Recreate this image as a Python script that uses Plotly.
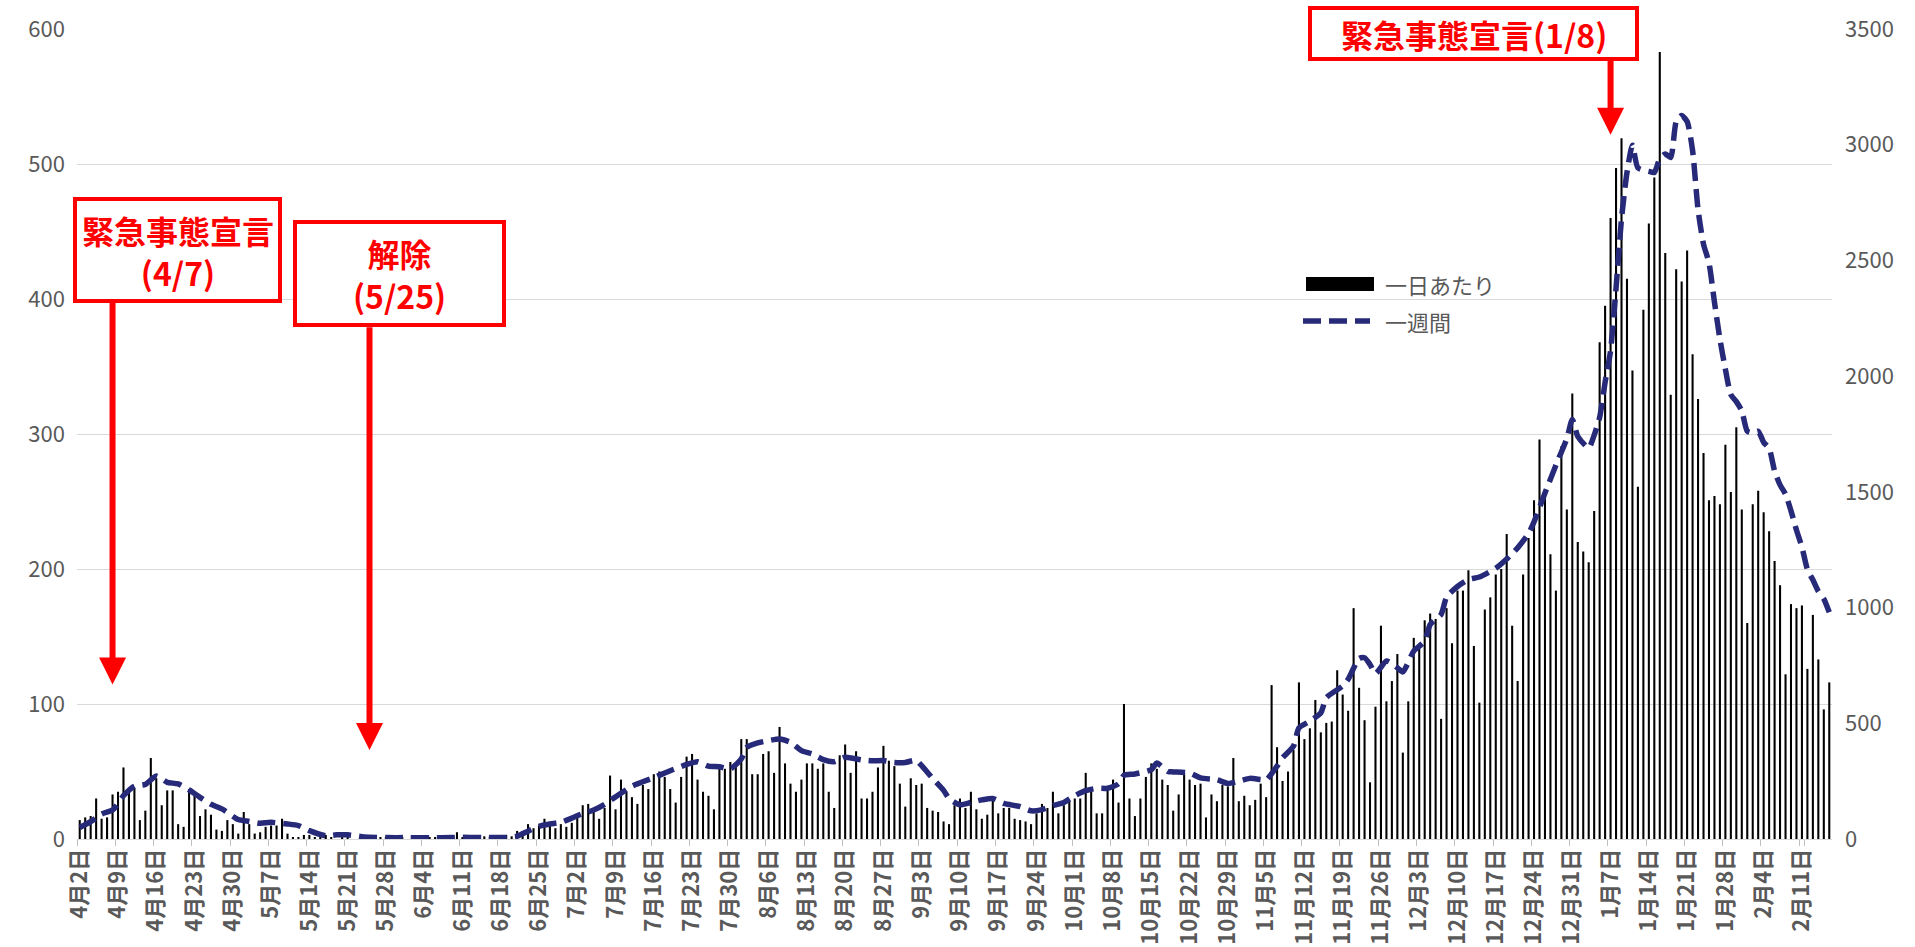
import pandas as pd
import plotly.graph_objects as go

# ---------------- data ----------------
start_date = "2020-04-02"

daily_cases = [
    14, 16, 17, 30, 15, 16, 33, 35, 53, 37,
    38, 14, 21, 60, 45, 25, 36, 36, 11, 9,
    37, 32, 17, 22, 18, 7, 6, 14, 11, 4,
    20, 11, 4, 5, 9, 10, 10, 15, 4, 1,
    1, 3, 3, 1, 3, 3, 1, 0, 2, 1,
    0, 0, 1, 0, 0, 1, 1, 0, 0, 1,
    0, 2, 1, 0, 1, 1, 0, 2, 0, 5,
    1, 2, 0, 1, 2, 1, 2, 1, 3, 2,
    6, 3, 11, 8, 10, 15, 12, 8, 11, 9,
    12, 18, 25, 26, 20, 15, 23, 47, 22, 44,
    35, 31, 26, 40, 37, 48, 50, 46, 37, 27,
    46, 61, 63, 44, 35, 32, 22, 52, 52, 57,
    57, 74, 74, 48, 48, 63, 65, 49, 83, 56,
    41, 35, 44, 56, 56, 52, 56, 35, 23, 62,
    70, 49, 65, 30, 30, 35, 53, 69, 58, 54,
    41, 24, 45, 40, 41, 23, 21, 20, 13, 11,
    25, 30, 23, 35, 22, 15, 18, 30, 19, 23,
    23, 15, 14, 13, 11, 19, 26, 23, 35, 19,
    25, 28, 30, 30, 49, 35, 19, 19, 37, 44,
    27, 100, 30, 17, 30, 46, 56, 52, 44, 40,
    21, 33, 49, 44, 40, 41, 16, 33, 28, 40,
    39, 60, 28, 32, 25, 29, 41, 31, 114, 68,
    43, 50, 66, 116, 74, 82, 103, 79, 86, 87,
    125, 107, 95, 171, 112, 88, 42, 98, 158, 102,
    117, 137, 64, 102, 149, 142, 162, 167, 163, 89,
    171, 145, 184, 184, 199, 143, 101, 170, 179, 196,
    200, 226, 158, 117, 196, 223, 251, 296, 257, 211,
    184, 291, 244, 330, 220, 213, 205, 243, 368, 395,
    460, 497, 519, 415, 347, 261, 392, 456, 490, 583,
    434, 329, 422, 413, 436, 359, 326, 286, 251, 254,
    248, 292, 257, 305, 244, 160, 248, 258, 242, 228,
    206, 188, 122, 174, 171, 173, 126, 166, 133, 96,
    116,
]

# weekly line: day offset from start_date, value
weekly_day = [
    0, 2, 4, 6, 8, 10, 12, 14, 16, 18, 20, 22, 24, 26, 29, 31, 33, 35, 38, 40,
    42, 45, 47, 49, 52, 56, 60, 64, 68, 70, 74, 78, 80, 82, 84, 86, 88, 90, 92, 94,
    96, 98, 101, 105, 108, 111, 113, 115, 117, 119, 121, 122, 124, 126, 128, 130,
    132, 134, 136, 138, 140, 143, 145, 147, 149, 151, 153, 154, 156, 158, 159, 161,
    163, 165, 167, 169, 172, 174, 176, 178, 180, 182, 184, 186, 188, 190, 191, 193,
    196, 197, 199, 200, 203, 205, 208, 210, 212, 214, 216, 217, 219, 220, 222, 223,
    225, 227, 228, 231, 232, 234, 235, 236, 237, 239, 241, 242, 244, 246, 247, 249,
    250, 252, 254, 256, 259, 261, 263, 265, 266, 268, 270, 272, 273, 274, 276, 277,
    278, 279, 280, 281, 282, 283, 284, 285, 287, 288, 289, 290, 291, 292, 293, 294,
    295, 296, 297, 298, 299, 300, 301, 302, 303, 304, 305, 306, 307, 308, 309, 310,
    311, 312, 313, 314, 315, 316, 317, 318, 319, 320,
]
weekly_sum = [
    50, 75, 108, 125, 187, 228, 236, 272, 245, 238, 212, 180, 150, 130, 84, 76, 68, 72, 65, 58,
    36, 14, 18, 18, 9, 6, 6, 5, 6, 8, 6, 7, 12, 34, 55, 65, 72, 90, 110, 125,
    150, 182, 228, 265, 295, 322, 334, 315, 312, 303, 346, 395, 415, 425, 432, 418,
    382, 367, 343, 334, 353, 342, 338, 339, 331, 331, 340, 317, 262, 210, 175, 148,
    158, 169, 175, 154, 140, 122, 127, 144, 158, 187, 209, 219, 219, 238, 275, 281,
    300, 328, 292, 290, 285, 264, 256, 240, 250, 262, 257, 255, 315, 351, 401, 480,
    509, 545, 610, 661, 690, 780, 783, 754, 715, 769, 740, 722, 812, 855, 927, 970,
    1045, 1091, 1121, 1132, 1170, 1210, 1258, 1320, 1370, 1495, 1615, 1730, 1813, 1740, 1690, 1745,
    1822, 1974, 2110, 2380, 2680, 2880, 2998, 2900, 2885, 2880, 2940, 2960, 2945, 3100, 3126, 3100,
    2975, 2720, 2570, 2490, 2320, 2160, 2030, 1920, 1890, 1850, 1762, 1754, 1762, 1714, 1688, 1590,
    1530, 1490, 1418, 1335, 1262, 1165, 1120, 1070, 1038, 980,
]

dates = pd.date_range(start_date, periods=len(daily_cases), freq="D")
categories = [f"{d.month}月{d.day}日" for d in dates]
tick_labels = categories[::7]

legend_daily = "一日あたり"
legend_weekly = "一週間"

RED = "#FF0000"
NAVY = "#262A78"
GRAY_TXT = "#595959"
FONT = "Noto Sans CJK JP"

fig = go.Figure()
fig.add_trace(go.Bar(
    x=categories, y=daily_cases, name=legend_daily,
    marker=dict(color="#000000", line=dict(width=0)),
    width=0.38,
))
fig.add_trace(go.Scatter(
    x=[categories[i] for i in weekly_day], y=weekly_sum, name=legend_weekly,
    yaxis="y2", mode="lines",
    line=dict(color=NAVY, width=5.5, dash="18px,8px", shape="spline", smoothing=0.6),
))

# plot area in pixels: x 77..1832, y 29..839
def px(xp):
    return (xp - 77) / 1755.0

def py(yp):
    return (839 - yp) / 810.0

annotations = []
shapes = []

# callout boxes: text, left, top, right, bottom (pixels), font size
boxes = [
    ("緊急事態宣言<br>(4/7)", 73, 197, 282, 303, 32),
    ("解除<br>(5/25)", 293, 220, 506, 327, 32),
    ("緊急事態宣言(1/8)", 1308, 6, 1639, 61, 32),
]
# arrows (category, arrow tip value, box-bottom value)
arrows = [
    (categories[6], 113.4, 397.0),
    (categories[53], 64.8, 379.0),
    (categories[280], 520.6, 576.5),
]
for cat, tip, tail in arrows:
    annotations.append(dict(
        x=cat, y=tail, xref="x", yref="y", ax=cat, ay=tip, axref="x", ayref="y",
        text="", showarrow=True, arrowside="start", startarrowhead=2,
        startarrowsize=0.9, arrowwidth=6, arrowcolor=RED,
    ))
for text, x0, y0, x1, y1, fs in boxes:
    shapes.append(dict(
        type="rect", xref="paper", yref="paper",
        x0=px(x0 + 2), x1=px(x1 - 2), y0=py(y1 - 2), y1=py(y0 + 2),
        fillcolor="white", line=dict(color=RED, width=4), layer="above",
    ))
    annotations.append(dict(
        x=px((x0 + x1) / 2), y=py((y0 + y1) / 2 + 1), xref="paper", yref="paper",
        xanchor="center", yanchor="middle", text=text, showarrow=False,
        align="center", borderpad=0,
        font=dict(family=FONT, size=fs, color=RED, weight="bold"),
    ))

# legend
annotations.append(dict(
    x=px(1383), y=py(284), xref="paper", yref="paper", xanchor="left", yanchor="middle",
    text=legend_daily, showarrow=False, font=dict(family=FONT, size=22, color=GRAY_TXT),
))
annotations.append(dict(
    x=px(1383), y=py(321), xref="paper", yref="paper", xanchor="left", yanchor="middle",
    text=legend_weekly, showarrow=False, font=dict(family=FONT, size=22, color=GRAY_TXT),
))
shapes.append(dict(
    type="rect", xref="paper", yref="paper", x0=px(1306), x1=px(1374), y0=py(291), y1=py(277),
    fillcolor="#000000", line=dict(width=0),
))
shapes.append(dict(
    type="line", xref="paper", yref="paper", x0=px(1303), x1=px(1370), y0=py(321), y1=py(321),
    line=dict(color=NAVY, width=5.5, dash="18px,8px"),
))

fig.update_layout(
    width=1915, height=947,
    margin=dict(l=77, r=83, t=29, b=108),
    plot_bgcolor="white", paper_bgcolor="white",
    showlegend=False,
    font=dict(family=FONT, color=GRAY_TXT),
    annotations=annotations,
    shapes=shapes,
    xaxis=dict(
        type="category", categoryorder="array", categoryarray=categories,
        tickmode="array", tickvals=tick_labels, ticktext=tick_labels, tickangle=-90,
        tickson="boundaries", ticks="outside", ticklen=6, tickcolor="#BFBFBF",
        showline=True, linecolor="#D9D9D9", linewidth=1, showgrid=False,
        tickfont=dict(family=FONT, size=22, color=GRAY_TXT, weight="bold"),
        range=[-0.5, len(categories) - 0.5], automargin=False,
    ),
    yaxis=dict(
        range=[0, 600], tick0=0, dtick=100, gridcolor="#D9D9D9", gridwidth=1,
        zeroline=False, showline=False, ticklabelstandoff=11, automargin=False,
        tickfont=dict(family=FONT, size=22, color=GRAY_TXT),
    ),
    yaxis2=dict(
        range=[0, 3500], tick0=0, dtick=500, overlaying="y", side="right",
        showgrid=False, zeroline=False, showline=False, ticklabelstandoff=12,
        automargin=False,
        tickfont=dict(family=FONT, size=22, color=GRAY_TXT),
    ),
)

fig.write_html("out.html")
